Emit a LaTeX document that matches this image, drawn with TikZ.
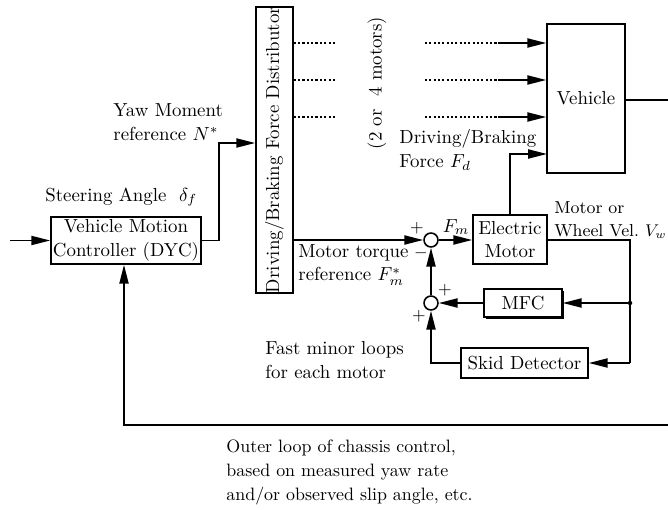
\documentclass[tikz,border=0pt]{standalone}
\usetikzlibrary{arrows.meta,shadows}
\begin{document}
\begin{tikzpicture}[x=0.53pt,y=-0.53pt,
  >={Triangle[length=10pt,width=4.8pt]},
  blk/.style={draw, line width=0.85pt, inner sep=0pt, align=center, font=\fontsize{10}{12.5}\selectfont},
  sumc/.style={draw, circle, line width=0.85pt, inner sep=0pt, minimum size=7.4pt},
  lbl/.style={inner sep=0pt, align=left, font=\fontsize{10}{12.5}\selectfont},
  sgn/.style={inner sep=0pt, font=\fontsize{9}{10}\selectfont},
  conn/.style={line width=1pt},
  dotline/.style={line width=0.85pt, dash pattern=on 1.1pt off 1.2pt}]
\useasboundingbox (0,0) rectangle (668,510);

% blocks
\node[blk, minimum width=79.5pt, minimum height=24.9pt] (ctrl) at (126,240.5) {Vehicle Motion\\Controller (DYC)};
\node[blk, minimum width=19.6pt, minimum height=151.6pt] (dist) at (274.5,150) {};
\node[rotate=90, inner sep=0pt, font=\fontsize{10}{12}\selectfont] (distlbl) at (dist.center) {Driving/Braking Force Distributor};
\node[blk, minimum width=41.3pt, minimum height=79pt] (veh) at (586,98.5) {Vehicle};
\node[blk, minimum width=39.2pt, minimum height=26pt] (motor) at (510,239.5) {Electric\\Motor};
\node[sumc] (s1) at (431,240) {};
\node[sumc] (s2) at (431,303) {};
\node[blk, minimum width=41.3pt, minimum height=14.8pt, fill=white,
      drop shadow={shadow xshift=1.1pt, shadow yshift=-1.1pt, fill=black, opacity=1}] (mfc) at (523,303) {MFC};
\node[blk, minimum width=67.3pt, minimum height=15.9pt] (skid) at (524.5,363) {Skid Detector};

% coordinates
\coordinate (in) at (10,240.5);
\coordinate (yawturn) at (219,143);
\coordinate (fdin) at (547,154);
\coordinate (vehout) at (668,100);
\coordinate (fbtop) at (630,240);
\coordinate (fbdot) at (630,303);
\coordinate (fbbot) at (630,363);
\coordinate (olr) at (668,425);
\coordinate (oll) at (124,425);

% connectors
\draw[conn,->] (in) -- (ctrl.west);
\draw[conn,->] (ctrl.east) -| (yawturn) -- (yawturn -| dist.west);
\foreach \yy/\nn in {43/a,80/b,117/c}{
  \coordinate (p1\nn) at (dist.east |- 0,\yy);
  \coordinate (p2\nn) at (336,\yy);
  \coordinate (p3\nn) at (425,\yy);
  \coordinate (p4\nn) at (498,\yy);
  \draw[dotline] (p1\nn) -- (p2\nn);
  \draw[dotline] (p3\nn) -- (p4\nn);
  \draw[conn,->] (p4\nn) -- (p4\nn -| veh.west);
}
\draw[conn] (veh.east |- vehout) -- (vehout);
\draw[conn,->] (motor.north) |- (fdin);
\draw[conn,->] (dist.east |- s1.west) -- (s1.west);
\draw[conn,->] (s1.east) -- (motor.west |- s1.east);
\draw[conn] (motor.east |- fbtop) -- (fbtop) -- (fbbot);
\draw[conn,->] (fbbot) -- (skid.east);
\fill (fbdot) circle (1.2pt);
\draw[conn,->] (fbdot) -- (mfc.east);
\draw[conn,->] (mfc.west) -- (s2.east);
\draw[conn,->] (skid.west) -| (s2.south);
\draw[conn,->] (s2.north) -- (s1.south);
\draw[conn,->] (olr) -- (oll) -- (oll |- ctrl.south);

% signs
\node[sgn] (sg1) at (417,228) {$+$};
\node[sgn] (sg2) at (421,253) {$-$};
\node[sgn] (sg3) at (445,290) {$+$};
\node[sgn] (sg4) at (419,316) {$+$};
\node[lbl] (fm) at (456,227) {$F_m$};

% labels
\node[lbl, anchor=west] (yaw) at (113,122) {Yaw Moment\\reference $N^*$};
\node[lbl, anchor=west] (steer) at (45,197) {Steering Angle\ \ $\delta_f$};
\node[lbl, rotate=90] (motors) at (377,83) {(2 or\ \ 4 motors)};
\node[lbl, anchor=west] (fdlbl) at (399,150) {Driving/Braking\\Force $F_d$};
\node[lbl, anchor=west] (mtlbl) at (298,265) {Motor torque\\reference $F_m^*$};
\node[lbl, anchor=west, font=\fontsize{9.2}{12.5}\selectfont] (vwlbl) at (554,220) {Motor or\\Wheel Vel.\ $V_w$};
\node[lbl, anchor=west] (fast) at (265,360) {Fast minor loops\\for each motor};
\node[lbl, anchor=west, font=\fontsize{9.5}{12.7}\selectfont] (outer) at (226,472) {Outer loop of chassis control,\\based on measured yaw rate\\and/or observed slip angle, etc.};
\end{tikzpicture}
\end{document}
